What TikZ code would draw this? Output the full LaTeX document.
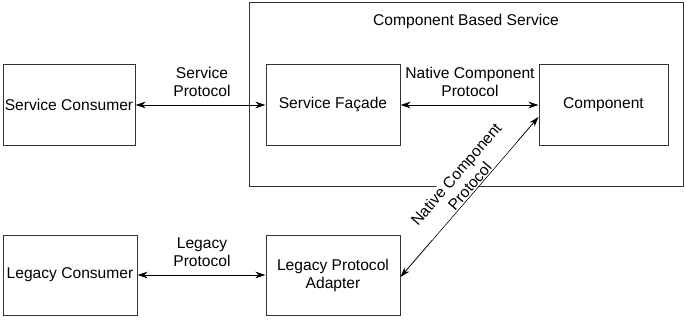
\documentclass[tikz,border=0pt]{standalone}
\usepackage{fontspec}
\setmainfont{Liberation Sans}
\usetikzlibrary{arrows.meta}
\begin{document}
\begin{tikzpicture}[x=1pt,y=1pt,
  box/.style={draw=black!80, line width=1pt, minimum height=80pt, inner sep=0pt, align=center, font=\fontsize{15.6}{18}\selectfont},
  lbl/.style={align=center, inner sep=1pt, font=\fontsize{15.6}{18}\selectfont},
  conn/.style={{Stealth[length=10pt,width=6.5pt]}-{Stealth[length=10pt,width=6.5pt]}, line width=0.8pt, black}]
\useasboundingbox (0,0) rectangle (687,319);
\node[box, minimum width=434pt, minimum height=183pt] (outer) at (466,224.5) {};
\node[lbl] (title) at (466,298) {Component Based Service};
\node[box, minimum width=132pt] (sc) at (69,214) {Service Consumer};
\node[box, minimum width=134pt] (sf) at (333,214) {Service Façade};
\node[box, minimum width=129pt] (comp) at (603.5,214) {Component};
\node[box, minimum width=134pt] (lc) at (70,44) {Legacy Consumer};
\node[box, minimum width=134pt] (lpa) at (333,44) {Legacy Protocol\\Adapter};
\draw[conn] (sc.east) -- (sf.west);
\draw[conn] (sf.east) -- (comp.west);
\draw[conn] (lc.east) -- (lpa.west);
\coordinate (d1) at ([yshift=-2pt]lpa.east);
\coordinate (d2) at ([yshift=-12pt]comp.west);
\draw[conn] (d1) -- (d2) node[lbl, sloped, above, pos=0.54, fill=white] (nlbl) {Native Component\\Protocol};
\node[lbl] (splbl) at (202,237) {Service\\Protocol};
\node[lbl] (nclbl) at (470,237) {Native Component\\Protocol};
\node[lbl] (lplbl) at (202,67) {Legacy\\Protocol};
\end{tikzpicture}
\end{document}
